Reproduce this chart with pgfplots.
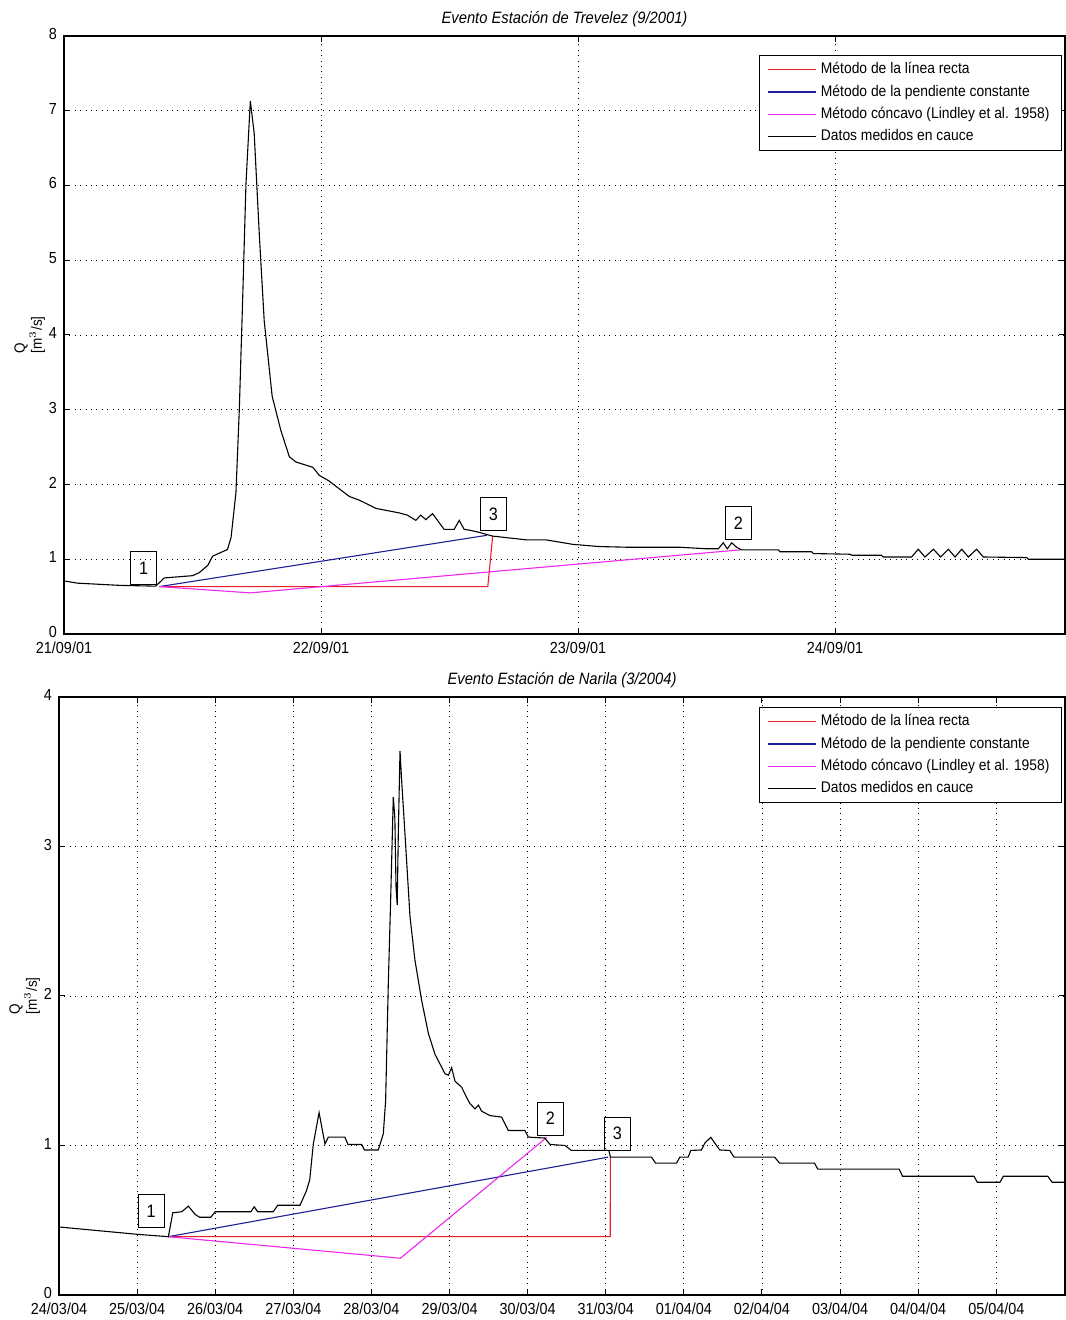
\documentclass[border=0pt]{standalone}
\usepackage{fontspec}
\setmainfont{Liberation Sans}[FakeStretch=0.9]
\usepackage{pgfplots}
\pgfplotsset{compat=1.18}
\definecolor{mred}{RGB}{235,30,45}
\definecolor{mblue}{RGB}{30,30,150}
\definecolor{mmag}{RGB}{235,40,235}
\pgfplotsset{
 myaxis/.style={
  scale only axis, anchor=south west,
  axis line style={line width=0.6pt},
  grid=major, grid style={black, line width=0.4pt, dash pattern=on 0.5pt off 2.2pt},
  major tick length=3pt, tick align=inside, tick style={black,line width=0.5pt},
  /pgf/number format/assume math mode=true,
  ticklabel style={font=\fontsize{8}{9}\selectfont},
  xticklabel style={yshift=-0.5pt},
  yticklabel style={yshift=1pt},
  title style={font=\fontsize{8.2}{10}\selectfont\itshape, at={(0.5,1)}, anchor=south, yshift=-5pt},
  legend style={font=\fontsize{7.7}{8.8}\selectfont, draw=black, line width=0.5pt, at={(1,1)}, anchor=north east, cells={anchor=west}, inner xsep=4pt, inner ysep=1.5pt},
  legend image code/.code={\draw[#1] (0pt,0pt) -- (24pt,0pt);},
  ylabel={Q\\{[m$^3$/s]}},
  ylabel style={align=left, font=\fontsize{7.5}{8.5}\selectfont, at={(axis description cs:-0.012,0.5)}, anchor=south},
  every axis plot/.append style={line width=0.55pt},
 },
}
\tikzset{lbl/.style={draw, line width=0.5pt, minimum width=13pt, minimum height=16.5pt, inner sep=0pt, font=\fontsize{9}{9}\selectfont}}
\begin{document}
\begin{tikzpicture}
\useasboundingbox (0,0) rectangle (532.5pt,660pt);
% ---------------- top ----------------
\begin{axis}[myaxis, at={(32pt,343pt)}, width=500.5pt, height=299pt,
  xmin=0, xmax=3.895, ymin=0, ymax=8,
  xtick={0,1,2,3}, xticklabels={21/09/01,22/09/01,23/09/01,24/09/01},
  ytick={0,1,...,8},
  title={Evento Estación de Trevelez (9/2001)},
  legend style={xshift=-1.5pt, yshift=-9.5pt}]
\addplot[mred] coordinates {(0.371,0.634) (1.649,0.634) (1.668,1.31)};
\addlegendentry{Método de la línea recta}
\addplot[mblue] coordinates {(0.371,0.634) (1.645,1.32)};
\addlegendentry{Método de la pendiente constante}
\addplot[mmag] coordinates {(0.371,0.634) (0.725,0.55) (2.63,1.125)};
\addlegendentry{Método cóncavo (Lindley et al. 1958)}
\addplot[black] coordinates {
(0,0.71) (0.052,0.68) (0.22,0.65) (0.357,0.64) (0.39,0.75) (0.5,0.78) (0.526,0.82)
(0.56,0.92) (0.578,1.04) (0.597,1.07) (0.636,1.13) (0.65,1.29) (0.669,1.89) (0.682,2.99)
(0.695,4.46) (0.708,6.02) (0.725,7.13) (0.740,6.7) (0.76,5.34) (0.779,4.19) (0.81,3.18)
(0.844,2.72) (0.877,2.37) (0.903,2.30) (0.968,2.23) (0.994,2.12) (1.03,2.05) (1.11,1.84)
(1.149,1.79) (1.214,1.68) (1.304,1.62) (1.336,1.59) (1.369,1.52) (1.388,1.59) (1.408,1.53)
(1.434,1.61) (1.479,1.40) (1.518,1.40) (1.538,1.52) (1.557,1.40) (1.576,1.39) (1.615,1.36)
(1.667,1.31) (1.719,1.29) (1.797,1.26) (1.874,1.26) (1.978,1.20) (2.08,1.17) (2.197,1.16)
(2.397,1.16) (2.5,1.14) (2.546,1.14) (2.565,1.22) (2.581,1.14) (2.598,1.22) (2.617,1.16)
(2.637,1.125) (2.78,1.125) (2.786,1.10) (2.909,1.10) (2.916,1.076) (3.058,1.067) (3.065,1.054)
(3.18,1.054) (3.188,1.03) (3.298,1.03) (3.324,1.134) (3.35,1.03) (3.383,1.134) (3.411,1.03)
(3.441,1.134) (3.467,1.03) (3.493,1.134) (3.519,1.03) (3.551,1.134) (3.577,1.03) (3.746,1.022)
(3.752,1.0) (3.895,1.0)};
\addlegendentry{Datos medidos en cauce}
\node[lbl] at (axis cs:0.31,0.885) {1};
\node[lbl] at (axis cs:1.671,1.605) {3};
\node[lbl] at (axis cs:2.624,1.48) {2};
\end{axis}
% ---------------- bottom ----------------
\begin{axis}[myaxis, at={(29.5pt,12.5pt)}, width=503pt, height=299pt,
  xmin=0, xmax=12.88, ymin=0, ymax=4,
  xtick={0,1,...,12},
  xticklabels={24/03/04,25/03/04,26/03/04,27/03/04,28/03/04,29/03/04,30/03/04,31/03/04,01/04/04,02/04/04,03/04/04,04/04/04,05/04/04},
  ytick={0,1,2,3,4},
  title={Evento Estación de Narila (3/2004)},
  legend style={xshift=-1.5pt, yshift=-5pt}]
\addplot[mred] coordinates {(1.4,0.39) (7.057,0.39) (7.06,0.922)};
\addlegendentry{Método de la línea recta}
\addplot[mblue] coordinates {(1.4,0.39) (7.03,0.922)};
\addlegendentry{Método de la pendiente constante}
\addplot[mmag] coordinates {(1.4,0.39) (4.371,0.246) (6.246,1.055)};
\addlegendentry{Método cóncavo (Lindley et al. 1958)}
\addplot[black] coordinates {
(0,0.455) (1.0,0.406) (1.4,0.39) (1.457,0.55) (1.571,0.557) (1.657,0.594) (1.743,0.539)
(1.8,0.52) (1.943,0.52) (2.0,0.557) (2.457,0.557) (2.5,0.59) (2.543,0.557) (2.743,0.557)
(2.8,0.6) (3.086,0.6) (3.17,0.70) (3.21,0.77) (3.256,1.01) (3.33,1.22) (3.405,1.01)
(3.448,1.056) (3.66,1.056) (3.70,1.007) (3.875,1.007) (3.91,0.97) (4.088,0.97) (4.152,1.078)
(4.182,1.30) (4.216,2.08) (4.246,2.64) (4.28,3.33) (4.30,3.19) (4.315,2.73) (4.33,2.61)
(4.344,3.08) (4.366,3.64) (4.387,3.44) (4.43,3.08) (4.494,2.53) (4.557,2.24) (4.643,1.97)
(4.729,1.75) (4.814,1.61) (4.942,1.48) (4.985,1.47) (5.027,1.52) (5.07,1.43) (5.155,1.39)
(5.22,1.32) (5.262,1.28) (5.326,1.245) (5.37,1.27) (5.41,1.23) (5.518,1.2) (5.667,1.19)
(5.753,1.10) (5.966,1.10) (6.009,1.056) (6.22,1.05) (6.286,1.007) (6.478,1.0) (6.56,0.967)
(7.04,0.967) (7.06,0.922) (7.587,0.922) (7.638,0.882) (7.906,0.882) (7.949,0.922) (8.055,0.922)
(8.089,0.967) (8.226,0.97) (8.268,1.016) (8.345,1.055) (8.396,1.016) (8.46,0.97) (8.587,0.967)
(8.643,0.922) (9.162,0.922) (9.226,0.882) (9.672,0.882) (9.715,0.842) (10.757,0.842) (10.8,0.794)
(11.715,0.794) (11.757,0.754) (12.047,0.754) (12.09,0.794) (12.66,0.794) (12.715,0.754) (12.88,0.754)};
\addlegendentry{Datos medidos en cauce}
\node[lbl] at (axis cs:1.18,0.56) {1};
\node[lbl] at (axis cs:6.29,1.18) {2};
\node[lbl] at (axis cs:7.15,1.08) {3};
\end{axis}
\end{tikzpicture}
\end{document}
